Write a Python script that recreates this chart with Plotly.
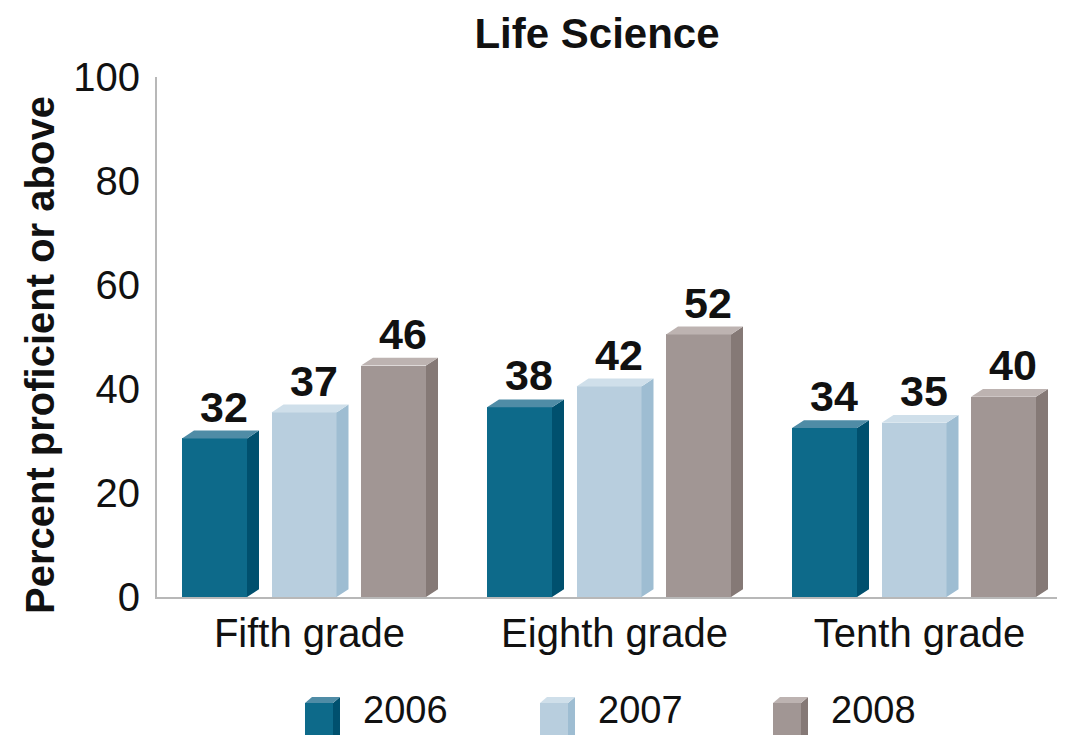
import plotly.graph_objects as go

# ---------------- data ----------------
categories = ["Fifth grade", "Eighth grade", "Tenth grade"]
years = ["2006", "2007", "2008"]
values_2006 = [32, 38, 34]
values_2007 = [37, 42, 35]
values_2008 = [46, 52, 40]
y_ticks = [0, 20, 40, 60, 80, 100]

series_values = [values_2006, values_2007, values_2008]

# ---------------- style ----------------
OFF = 8                      # page body margin of the browser
W, H = 1065, 735
ML, MR, MT, MB = 157 - OFF, 0, 77 - OFF, 735 - (597 - OFF)
PLOT_W = W - ML - MR
PLOT_H = H - MT - MB
CAT_PX = 305.0
X_RANGE = [-0.5, -0.5 + PLOT_W / CAT_PX]
Y_RANGE = [0, 100]

BAR_W = 65 / CAT_PX
PITCH = 89.5 / CAT_PX
SHIFT = -5.5 / CAT_PX
DX = 12 / CAT_PX       # 3D depth horizontally (x units)
DY = 1.5               # 3D depth vertically (y units)

FONT = "Liberation Sans, Arial, sans-serif"
front_colors = ["#0d6a8a", "#b8cede", "#a19694"]
side_colors = ["#00506e", "#9ebdd2", "#857976"]
top_colors = ["#4f8ca6", "#cfdfea", "#bdb3b1"]
AXIS_COLOR = "#b8b8b8"
TXT = "#111111"

fig = go.Figure()

annotations = []
for j, (year, vals) in enumerate(zip(years, series_values)):
    xc = [i + (j - 1) * PITCH + SHIFT for i in range(len(categories))]
    # front faces
    fig.add_trace(go.Bar(
        x=xc, y=[v - DY for v in vals], width=BAR_W,
        marker=dict(color=front_colors[j], line=dict(width=0)),
        name=year, showlegend=False, hoverinfo="skip",
    ))
    # side and top faces
    sx, sy, tx, ty = [], [], [], []
    for c, v in zip(xc, vals):
        xl, xr = c - BAR_W / 2, c + BAR_W / 2
        sx += [xr, xr + DX, xr + DX, xr, xr, None]
        sy += [0, DY, v, v - DY, 0, None]
        tx += [xl, xl + DX, xr + DX, xr, xl, None]
        ty += [v - DY, v, v, v - DY, v - DY, None]
        annotations.append(dict(
            x=c + DX * 0.8, y=v, xref="x", yref="y", text=f"<b>{v}</b>",
            showarrow=False, yanchor="bottom", xanchor="center", yshift=-2,
            font=dict(family=FONT, size=43, color=TXT),
        ))
    fig.add_trace(go.Scatter(x=sx, y=sy, mode="lines", fill="toself",
                             fillcolor=side_colors[j], line=dict(width=0),
                             showlegend=False, hoverinfo="skip"))
    fig.add_trace(go.Scatter(x=tx, y=ty, mode="lines", fill="toself",
                             fillcolor=top_colors[j], line=dict(width=0),
                             showlegend=False, hoverinfo="skip"))


# ---------------- manual legend (page pixel positions) ----------------
def px_x(px):
    return (px - OFF - ML) / PLOT_W


def px_y(py):
    return (H - MB - (py - OFF)) / PLOT_H


def pth(pts):
    return "M " + " L ".join(f"{px_x(a):.5f},{px_y(b):.5f}" for a, b in pts) + " Z"


shapes = []
legend_icon_x = [305, 540, 773]
legend_text_x = [361, 596, 829]
icon_top, icon_bot, depth_x, depth_y, icon_w = 703, 745, 7, 6, 28
for j, year in enumerate(years):
    lx = legend_icon_x[j]
    shapes.append(dict(type="path", xref="paper", yref="paper", layer="above",
                       path=pth([(lx, icon_top), (lx + icon_w, icon_top), (lx + icon_w, icon_bot), (lx, icon_bot)]),
                       fillcolor=front_colors[j], line=dict(width=0)))
    shapes.append(dict(type="path", xref="paper", yref="paper", layer="above",
                       path=pth([(lx + icon_w, icon_top), (lx + icon_w + depth_x, icon_top - depth_y),
                                 (lx + icon_w + depth_x, icon_bot), (lx + icon_w, icon_bot)]),
                       fillcolor=side_colors[j], line=dict(width=0)))
    shapes.append(dict(type="path", xref="paper", yref="paper", layer="above",
                       path=pth([(lx, icon_top), (lx + depth_x, icon_top - depth_y),
                                 (lx + icon_w + depth_x, icon_top - depth_y), (lx + icon_w, icon_top)]),
                       fillcolor=top_colors[j], line=dict(width=0)))
    annotations.append(dict(
        x=px_x(legend_text_x[j]), y=px_y(710), xref="paper", yref="paper",
        text=year, showarrow=False, xanchor="left", yanchor="middle",
        font=dict(family=FONT, size=38, color=TXT),
    ))

# y-axis title
annotations.append(dict(
    x=px_x(40), y=px_y(355), xref="paper", yref="paper",
    text="<b>Percent proficient or above</b>", textangle=-90, showarrow=False,
    xanchor="center", yanchor="middle",
    font=dict(family=FONT, size=40, color=TXT),
))

fig.update_layout(
    width=W, height=H,
    margin=dict(l=ML, r=MR, t=MT, b=MB, pad=0),
    paper_bgcolor="white", plot_bgcolor="white",
    barmode="overlay", bargap=0,
    title=dict(text="<b>Life Science</b>", x=(597 - OFF) / W, xanchor="center",
               y=1 - 25.5 / H, yanchor="middle", yref="container", pad=dict(t=0, b=0),
               font=dict(family=FONT, size=42, color=TXT)),
    xaxis=dict(range=X_RANGE, tickmode="array", tickvals=list(range(len(categories))),
               ticktext=categories, showgrid=False, zeroline=False,
               showline=True, linecolor=AXIS_COLOR, linewidth=2, ticks="",
               ticklabelstandoff=0, layer="below traces",
               tickfont=dict(family=FONT, size=40, color=TXT)),
    yaxis=dict(range=Y_RANGE, tickmode="array", tickvals=y_ticks,
               showgrid=False, zeroline=False, showline=True,
               linecolor=AXIS_COLOR, linewidth=2, ticks="",
               ticklabelstandoff=7, layer="below traces",
               tickfont=dict(family=FONT, size=40, color=TXT)),
    shapes=shapes, annotations=annotations, showlegend=False,
)

fig.write_html("out.html")
